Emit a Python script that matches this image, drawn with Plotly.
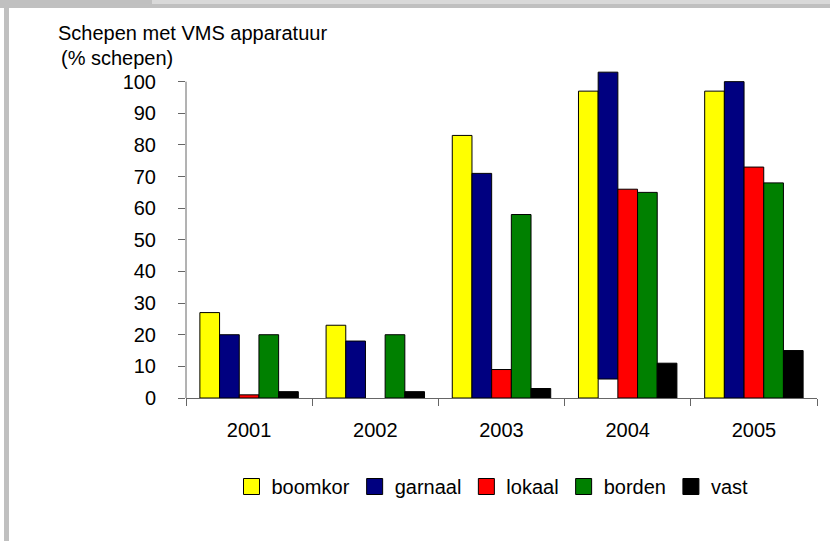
import plotly.graph_objects as go

years = ["2001", "2002", "2003", "2004", "2005"]

boomkor = [27, 23, 83, 97, 97]
garnaal = [20, 18, 71, 97, 100]
garnaal_base = [0, 0, 0, 6, 0]   # the 2004 bar floats in the original
lokaal = [1, None, 9, 66, 73]
borden = [20, 20, 58, 65, 68]
vast = [2, 2, 3, 11, 15]

series = [
    ("boomkor", boomkor, "#ffff00"),
    ("garnaal", garnaal, "#000080"),
    ("lokaal", lokaal, "#ff0000"),
    ("borden", borden, "#008000"),
    ("vast", vast, "#000000"),
]

y_ticks = list(range(0, 101, 10))

font = "Liberation Sans"
axis_col = "#666666"

fig = go.Figure()
for name, vals, col in series:
    fig.add_trace(go.Bar(
        x=years, y=vals, name=name,
        base=garnaal_base if name == "garnaal" else None,
        marker=dict(color=col, line=dict(color="black", width=1)),
        showlegend=False,
    ))
# legend entries with bigger square keys
for name, vals, col in series:
    fig.add_trace(go.Scatter(
        x=[None], y=[None], mode="markers", name=name,
        marker=dict(symbol="square", size=16, color=col, line=dict(color="black", width=1)),
    ))

# plot area in pixels: x 186..817, y 69..398 (0..104)
L, R, T, B = 186, 13, 69, 143
W, H = 830, 541
pw, ph = W - L - R, H - T - B


def px(x):
    return (x - L) / pw


def py(y):
    return (H - B - y) / ph


shapes = [
    # grey frame, top and left
    dict(type="rect", xref="paper", yref="paper", x0=px(0), x1=px(W), y0=py(8), y1=py(0),
         fillcolor="#c0c0c0", line_width=0, layer="below"),
    dict(type="rect", xref="paper", yref="paper", x0=px(152), x1=px(W), y0=py(4), y1=py(0),
         fillcolor="#d9d9d9", line_width=0, layer="below"),
    dict(type="rect", xref="paper", yref="paper", x0=px(4), x1=px(9), y0=py(H), y1=py(0),
         fillcolor="#c0c0c0", line_width=0, layer="below"),
    # value axis line stops at 100
    dict(type="line", xref="paper", yref="y", x0=0, x1=0, y0=0, y1=100,
         line=dict(color=axis_col, width=1)),
]

fig.update_layout(
    width=W, height=H,
    margin=dict(l=L, r=R, t=T, b=B),
    paper_bgcolor="white", plot_bgcolor="white",
    barmode="group", bargap=0.22, bargroupgap=0,
    font=dict(family=font, size=20, color="black"),
    legend=dict(orientation="h", x=0.5 - 9 / pw, xanchor="center", y=py(467), yanchor="top",
                font=dict(size=20), itemwidth=30, traceorder="normal"),
    shapes=shapes,
    annotations=[
        dict(text="Schepen met VMS apparatuur", xref="paper", yref="paper",
             x=px(56), y=py(33), xanchor="left", yanchor="middle", showarrow=False,
             font=dict(size=20)),
        dict(text="(% schepen)", xref="paper", yref="paper",
             x=px(59), y=py(58), xanchor="left", yanchor="middle", showarrow=False,
             font=dict(size=20)),
        # heading above, mostly out of view
        dict(text="<b>apparatuur</b>", xref="paper", yref="paper",
             x=px(217), y=py(2), xanchor="left", yanchor="bottom", showarrow=False,
             font=dict(size=23)),
    ],
)

fig.update_xaxes(
    showline=True, linecolor=axis_col, linewidth=1,
    ticks="outside", tickson="boundaries", ticklen=7, tickcolor=axis_col,
    showgrid=False, tickfont=dict(size=20), ticklabelstandoff=14,
)
fig.update_yaxes(
    range=[0, 104], tickvals=y_ticks, showline=False,
    ticks="outside", ticklen=7, tickcolor=axis_col, showgrid=False, zeroline=False,
    tickfont=dict(size=20), ticklabelstandoff=18,
)

fig.write_html("out.html", config={"displayModeBar": False},
               post_script="document.body.style.margin='0';")
